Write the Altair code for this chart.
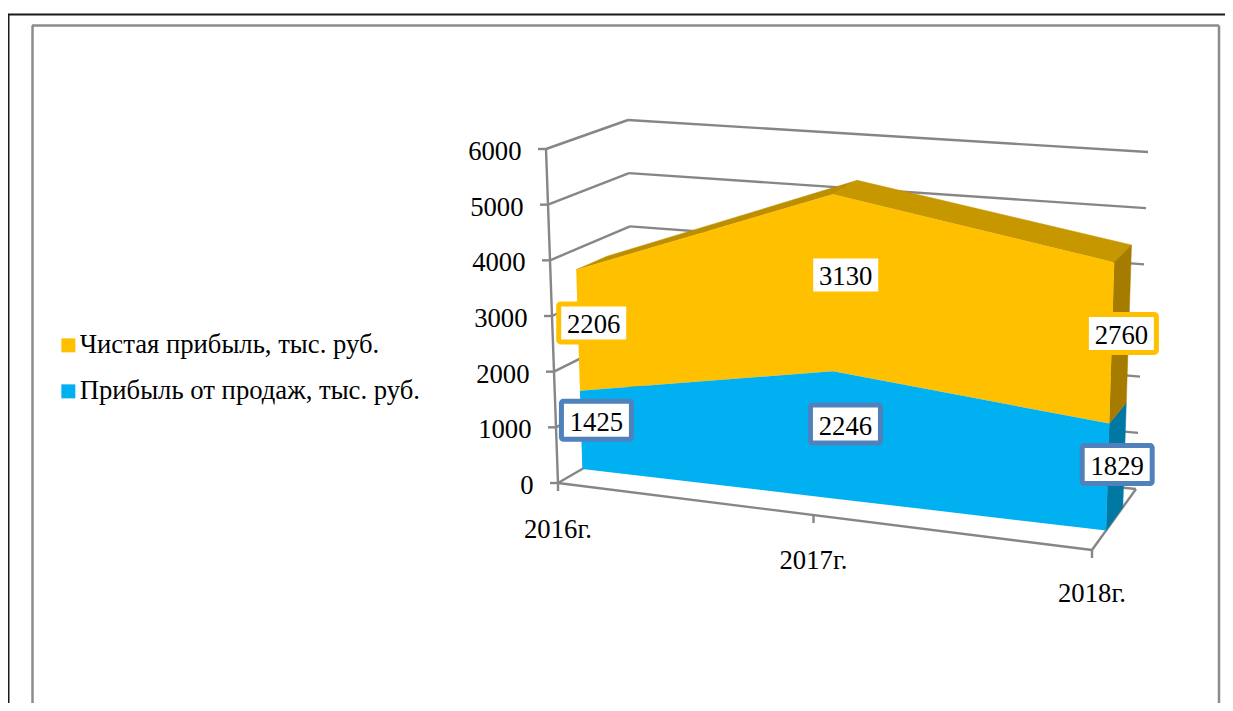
import altair as alt
import pandas as pd

# ---- values ----
categories = ["2016г.", "2017г.", "2018г."]
profit_sales = [1425, 2246, 1829]
net_profit = [2206, 3130, 2760]
y_ticks = [0, 1000, 2000, 3000, 4000, 5000, 6000]
series_names = ["Чистая прибыль, тыс. руб.", "Прибыль от продаж, тыс. руб."]

# ---- styles ----
ORANGE, BLUE = "#FFC000", "#00B0F0"
ORANGE_TOP_L, ORANGE_TOP_R = "#BD8F00", "#C79700"
ORANGE_SIDE, BLUE_SIDE = "#A67C00", "#0078A3"
BLUE_BOX = "#4F81BD"
GREY = "#868686"
FONT = "Liberation Serif"
FS = 26.7

# ---- the 3-D box of the chart, as seen by the camera (page pixels) ----
W, H = 1217, 695
Y_MAX = 6000
BOX = {
    (0, 0, 0): (558, 483), (1, 0, 0): (1092, 550),
    (0, 1, 0): (546, 149), (1, 1, 0): (1102, 193),
    (0, 0, 1): (634, 439), (1, 0, 1): (1136, 489),
    (0, 1, 1): (628, 120), (1, 1, 1): (1148, 152),
}
PERSP = 1.09            # foreshortening along the category axis
D_FRONT, D_MID, D_BACK = 0.32, 0.5, 0.70  # depth of the area slab


def proj(i, value, d):
    """category index, data value, depth -> page x, y"""
    u = i / (len(categories) - 1)
    u = u / (u + PERSP * (1 - u))
    v = value / Y_MAX
    out = [0.0, 0.0]
    for (a, b, c), p in BOX.items():
        w = (u if a else 1 - u) * (v if b else 1 - v) * (d if c else 1 - d)
        out[0] += w * p[0]
        out[1] += w * p[1]
    return out


x_scale = alt.Scale(domain=[8, 8 + W], range=[0, W], nice=False, zero=False)
y_scale = alt.Scale(domain=[8, 8 + H], range=[0, H], nice=False, zero=False)
X = alt.X("x:Q", scale=x_scale, axis=None)
Y = alt.Y("y:Q", scale=y_scale, axis=None)


def polygon(points, color):
    df = pd.DataFrame([{"x": p[0], "y": p[1], "o": k} for k, p in enumerate(points)])
    return (
        alt.Chart(df)
        .mark_line(interpolate="linear-closed", fill=color, stroke=color, strokeWidth=0.5)
        .encode(x=X, y=Y, order="o:Q")
    )


def segments(rows, color=GREY, width=2.4):
    df = pd.DataFrame(rows, columns=["x", "y", "x2", "y2"])
    return (
        alt.Chart(df)
        .mark_rule(color=color, strokeWidth=width)
        .encode(x=X, y=Y, x2="x2:Q", y2="y2:Q")
    )


n = len(categories)
stack_low = profit_sales
stack_top = [a + b for a, b in zip(profit_sales, net_profit)]
zero = [0] * n
layers = []

# page frames
layers.append(segments([[8, 14.5, 8 + W, 14.5], [8.5, 14.5, 8.5, 8 + H]], "#1a1a1a", 2))
layers.append(
    segments([[32, 25.5, 1219, 25.5], [32.5, 25.5, 32.5, 8 + H], [1219, 25.5, 1219, 8 + H]], "#8c8c8c", 2.5)
)

# walls: gridlines, axis lines, ticks
grid, ticks = [], []
for t in y_ticks:
    a, b, c = proj(0, t, 0), proj(0, t, 1), proj(n - 1, t, 1)
    grid.append([*a, *b])
    grid.append([*b, *c])
    ticks.append([a[0] - 8, a[1], *a])
a, b = proj(0, 0, 0), proj(0, Y_MAX, 0)
grid.append([*a, *b])
a, b = proj(0, 0, 0), proj(n - 1, 0, 0)
grid.append([*a, *b])
a, b = proj(n - 1, 0, 0), proj(n - 1, 0, 1)
grid.append([*a, *b])
for i in range(n):
    a = proj(i, 0, 0)
    ticks.append([a[0], a[1], a[0], a[1] + 8])
layers.append(segments(grid + ticks))

# top of the stack
for i in range(n - 1):
    layers.append(
        polygon(
            [
                proj(i, stack_top[i], D_FRONT),
                proj(i + 1, stack_top[i + 1], D_FRONT),
                proj(i + 1, stack_top[i + 1], D_BACK),
                proj(i, stack_top[i], D_BACK),
            ],
            ORANGE_TOP_L if i == 0 else ORANGE_TOP_R,
        )
    )

# right-hand sides
for low, top, color in [(zero, stack_low, BLUE_SIDE), (stack_low, stack_top, ORANGE_SIDE)]:
    layers.append(
        polygon(
            [
                proj(n - 1, low[-1], D_FRONT),
                proj(n - 1, top[-1], D_FRONT),
                proj(n - 1, top[-1], D_BACK),
                proj(n - 1, low[-1], D_BACK),
            ],
            color,
        )
    )

# front faces (these carry the legend)
front = []
for name, low, top in [(series_names[0], stack_low, stack_top), (series_names[1], zero, stack_low)]:
    pts = [proj(i, top[i], D_FRONT) for i in range(n)] + [proj(i, low[i], D_FRONT) for i in reversed(range(n))]
    for k, p in enumerate(pts):
        front.append({"x": p[0], "y": p[1], "o": k, "series": name})
layers.append(
    alt.Chart(pd.DataFrame(front))
    .mark_line(interpolate="linear-closed", strokeWidth=0)
    .encode(
        x=X,
        y=Y,
        order="o:Q",
        fill=alt.Fill(
            "series:N",
            scale=alt.Scale(domain=series_names, range=[ORANGE, BLUE]),
            legend=alt.Legend(
                orient="none",
                legendX=47,
                legendY=324,
                title=None,
                symbolType="square",
                symbolSize=196,
                symbolStrokeWidth=0,
                labelFont=FONT,
                labelFontSize=FS,
                labelColor="#000000",
                labelOffset=alt.expr("-2"),
                labelLimit=500,
                rowPadding=18,
                padding=0,
            ),
        ),
    )
)

# value-axis and category labels
y_lab = pd.DataFrame(
    [{"x": proj(0, t, 0)[0] - 24.5, "y": proj(0, t, 0)[1] + 3, "t": str(t)} for t in y_ticks]
)
layers.append(
    alt.Chart(y_lab)
    .mark_text(font=FONT, fontSize=FS, align="right", baseline="middle", color="#000000")
    .encode(x=X, y=Y, text="t:N")
)
x_lab = pd.DataFrame(
    [{"x": proj(i, 0, 0)[0], "y": proj(i, 0, 0)[1] + 47 - 1.5 * i, "t": categories[i]} for i in range(n)]
)
layers.append(
    alt.Chart(x_lab)
    .mark_text(font=FONT, fontSize=FS, align="center", baseline="middle", color="#000000")
    .encode(x=X, y=Y, text="t:N")
)

# data labels
boxes, labels = [], []
for values, low, col, shift in [(profit_sales, zero, BLUE_BOX, -2.0), (net_profit, stack_low, ORANGE, -0.5)]:
    for i in range(n):
        cx, cy = proj(i, low[i] + values[i] / 2, D_MID)
        cx += 1.5
        cy += shift
        boxes.append({"x": cx - 35, "x2": cx + 35, "y": cy - 19, "y2": cy + 19, "c": col})
        labels.append({"x": cx, "y": cy + 2.5, "t": str(values[i])})
for col in [BLUE_BOX, ORANGE]:
    layers.append(
        alt.Chart(pd.DataFrame([b for b in boxes if b["c"] == col]))
        .mark_rect(fill="#FFFFFF", stroke=col, strokeWidth=5, cornerRadius=2)
        .encode(x=X, y=Y, x2="x2:Q", y2="y2:Q")
    )
layers.append(
    alt.Chart(pd.DataFrame(labels))
    .mark_text(font=FONT, fontSize=FS, align="center", baseline="middle", color="#000000")
    .encode(x=X, y=Y, text="t:N")
)

chart = (
    alt.layer(*layers)
    .properties(width=W, height=H, padding=0, autosize=alt.AutoSizeParams(type="none"), background="#FFFFFF")
    .configure_view(stroke=None)
)
chart.save("out.html", embed_options={"renderer": "svg", "actions": False})
